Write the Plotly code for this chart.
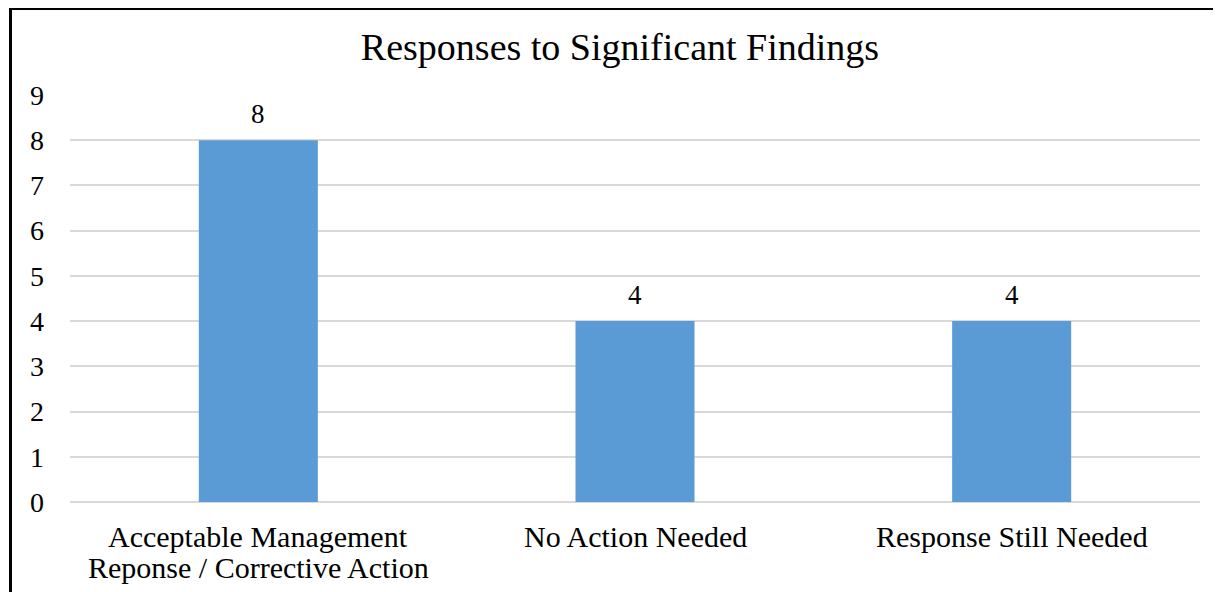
import plotly.graph_objects as go

categories = ["Acceptable Management<br>Reponse / Corrective Action", "No Action Needed", "Response Still Needed"]
values = [8, 4, 4]
y_ticks = [0, 1, 2, 3, 4, 5, 6, 7, 8, 9]

W, H = 1221, 592
OFF = 8  # page body margin
ml, mr, mt, mb = 70 - OFF, W - (1200 - OFF), 95 - OFF, H - (502 - OFF)
pw, ph = W - ml - mr, H - mt - mb
font = "Liberation Serif, Times New Roman, serif"

fig = go.Figure(go.Bar(
    x=categories, y=values, marker_color="#5B9BD5", marker_line_width=0,
))

annotations = [dict(x=c, y=v, text=str(v), showarrow=False, yshift=26, yanchor="middle",
                    font=dict(family=font, size=27, color="#000000"))
               for c, v in zip(categories, values)]
for c in categories:
    for i, line in enumerate(c.split("<br>")):
        annotations.append(dict(x=c, y=0, text=line, showarrow=False, yshift=-(34 + 31 * i),
                                yanchor="middle", xanchor="center",
                                font=dict(family=font, size=30, color="#000000")))

fig.update_layout(
    width=W, height=H,
    margin=dict(l=ml, r=mr, t=mt, b=mb),
    paper_bgcolor="white", plot_bgcolor="white",
    bargap=0.684,
    showlegend=False,
    title=dict(text="Responses to Significant Findings", x=(620 - OFF) / W, xref="container", xanchor="center",
               y=1 - (47 - OFF) / H, yref="container", yanchor="middle",
               font=dict(family=font, size=38, color="#000000")),
    xaxis=dict(showgrid=False, showline=False, ticks="", showticklabels=False),
    yaxis=dict(range=[0, 9], tickvals=y_ticks, showgrid=True, gridcolor="#D9D9D9", gridwidth=1.5,
               zeroline=True, zerolinecolor="#D9D9D9", zerolinewidth=1.5, showline=False, ticks="",
               ticklabelstandoff=25,
               tickfont=dict(family=font, size=28, color="#000000")),
    annotations=annotations,
    shapes=[dict(type="rect", xref="paper", yref="paper",
                 x0=(10.5 - OFF - ml) / pw, x1=(1300 - ml) / pw,
                 y0=-(H) / ph, y1=1 + (mt - (8.5 - OFF)) / ph,
                 line=dict(color="#000000", width=3), layer="above")],
)

fig.write_html("out.html")
